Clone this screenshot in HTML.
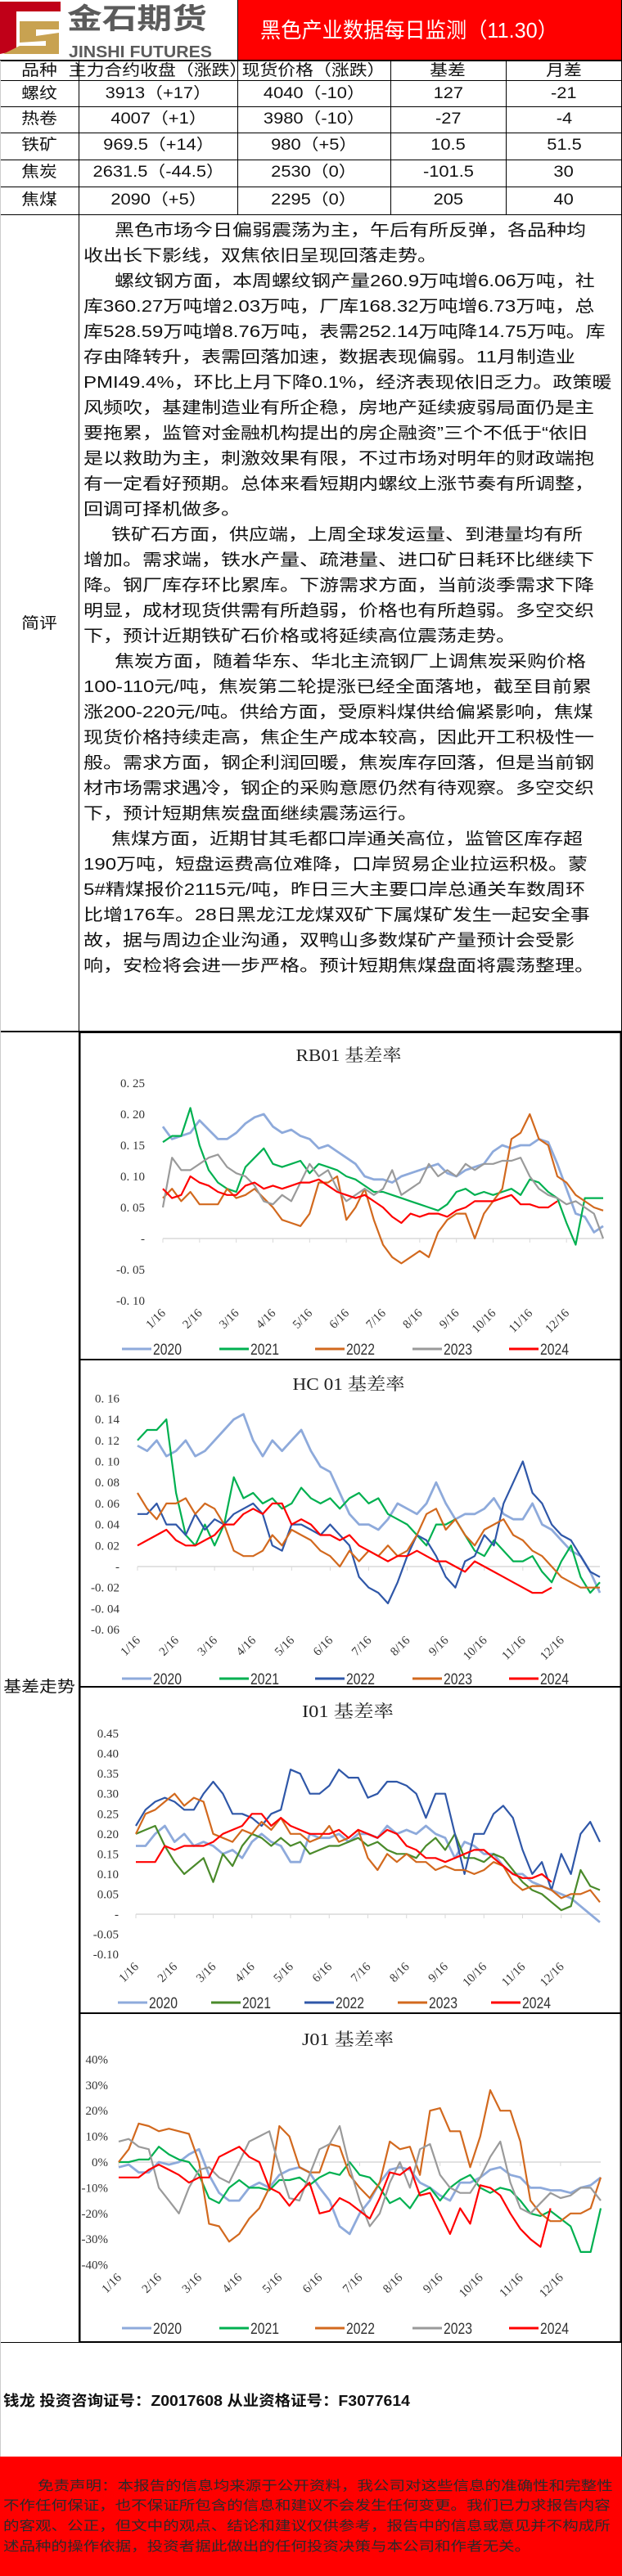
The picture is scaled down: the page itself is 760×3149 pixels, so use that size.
<!DOCTYPE html>
<html><head><meta charset="utf-8">
<style>
*{margin:0;padding:0;box-sizing:border-box}
body{width:760px;height:3149px;position:relative;background:#fff;overflow:hidden;font-family:"Liberation Sans","Noto Sans CJK SC",sans-serif;color:#111}
.a{position:absolute}
.hl{position:absolute;background:#000;height:2px}
.vl{position:absolute;background:#000;width:2px}
.cell{position:absolute;text-align:center;font-size:19px;line-height:26px;white-space:nowrap}
.cell span{display:inline-block;transform:scaleX(1.15)}
.ln{position:absolute;left:102px;font-size:20px;line-height:26px;height:26px;white-space:nowrap;transform:scaleX(1.2);transform-origin:0 50%;color:#111}
.ind{left:140px}
.disc{position:absolute;left:4px;font-size:16px;line-height:22px;white-space:nowrap;transform:scaleX(1.22);transform-origin:0 50%;color:#2a2a2a}
svg text{font-family:"Liberation Serif","Noto Serif CJK SC",serif}
</style></head>
<body>

<!-- Header -->
<div class="a" style="left:0;top:0;width:290px;height:74px;overflow:hidden">
<svg width="290" height="74">
<polygon points="0,2 74,2 74,14 20,14 20,62 0,66" fill="#c00018"/>
<polygon points="24,26 72,26 72,36 44,36 44,44 72,40 72,66 4,66 24,56 56,56 56,50 24,52" fill="#c8a251"/>
<text x="84" y="70" font-size="20" font-weight="bold" fill="#5b5b5b" textLength="175" lengthAdjust="spacingAndGlyphs" style="font-family:'Liberation Sans Narrow','Liberation Sans',sans-serif">JINSHI FUTURES</text>
</svg>
<div class="a" style="left:82px;top:4px;font-size:35px;font-weight:bold;color:#5b5b5b;line-height:40px;white-space:nowrap;transform:scaleX(1.22);transform-origin:0 0">金石期货</div>
</div>
<div class="a" style="left:290px;top:0;width:470px;height:74px;background:#ff0000"></div>
<div class="a" style="left:318px;top:20px;font-size:26px;line-height:34px;color:#fff;white-space:nowrap;transform:scaleX(0.97);transform-origin:0 0">黑色产业数据每日监测（11.30）</div>

<!-- Table grid -->
<div class="hl" style="left:0;top:73px;width:760px"></div>
<div class="hl" style="left:0;top:98px;width:760px;height:1px"></div>
<div class="hl" style="left:0;top:130px;width:760px;height:1px"></div>
<div class="hl" style="left:0;top:162px;width:760px;height:1px"></div>
<div class="hl" style="left:0;top:195px;width:760px;height:1px"></div>
<div class="hl" style="left:0;top:228px;width:760px;height:1px"></div>
<div class="hl" style="left:0;top:262px;width:760px;height:1px"></div>
<div class="hl" style="left:0;top:1260px;width:760px"></div>
<div class="hl" style="left:0;top:2863px;width:760px;height:1px"></div>
<div class="vl" style="left:96px;top:74px;height:2790px;width:1px"></div>
<div class="vl" style="left:290px;top:0;height:263px;width:1px"></div>
<div class="vl" style="left:477px;top:74px;height:189px;width:1px"></div>
<div class="vl" style="left:618px;top:74px;height:189px;width:1px"></div>
<div class="vl" style="left:759px;top:0;height:3003px;width:1px"></div>
<div class="vl" style="left:0;top:74px;height:2930px;width:1px;background:#ccc"></div>

<div class="cell" style="left:0;top:74px;width:97px"><span>品种</span></div>
<div class="cell" style="left:97px;top:74px;width:193px"><span>主力合约收盘（涨跌）</span></div>
<div class="cell" style="left:290px;top:74px;width:187px"><span>现货价格（涨跌）</span></div>
<div class="cell" style="left:477px;top:74px;width:141px"><span>基差</span></div>
<div class="cell" style="left:618px;top:74px;width:142px"><span>月差</span></div>

<div class="cell" style="left:0;top:102px;width:97px"><span>螺纹</span></div>
<div class="cell" style="left:97px;top:102px;width:193px"><span>3913（+17）</span></div>
<div class="cell" style="left:290px;top:102px;width:187px"><span>4040（-10）</span></div>
<div class="cell" style="left:477px;top:102px;width:141px"><span>127</span></div>
<div class="cell" style="left:618px;top:102px;width:142px"><span>-21</span></div>

<div class="cell" style="left:0;top:133px;width:97px"><span>热卷</span></div>
<div class="cell" style="left:97px;top:133px;width:193px"><span>4007（+1）</span></div>
<div class="cell" style="left:290px;top:133px;width:187px"><span>3980（-10）</span></div>
<div class="cell" style="left:477px;top:133px;width:141px"><span>-27</span></div>
<div class="cell" style="left:618px;top:133px;width:142px"><span>-4</span></div>

<div class="cell" style="left:0;top:165px;width:97px"><span>铁矿</span></div>
<div class="cell" style="left:97px;top:165px;width:193px"><span>969.5（+14）</span></div>
<div class="cell" style="left:290px;top:165px;width:187px"><span>980（+5）</span></div>
<div class="cell" style="left:477px;top:165px;width:141px"><span>10.5</span></div>
<div class="cell" style="left:618px;top:165px;width:142px"><span>51.5</span></div>

<div class="cell" style="left:0;top:198px;width:97px"><span>焦炭</span></div>
<div class="cell" style="left:97px;top:198px;width:193px"><span>2631.5（-44.5）</span></div>
<div class="cell" style="left:290px;top:198px;width:187px"><span>2530（0）</span></div>
<div class="cell" style="left:477px;top:198px;width:141px"><span>-101.5</span></div>
<div class="cell" style="left:618px;top:198px;width:142px"><span>30</span></div>

<div class="cell" style="left:0;top:232px;width:97px"><span>焦煤</span></div>
<div class="cell" style="left:97px;top:232px;width:193px"><span>2090（+5）</span></div>
<div class="cell" style="left:290px;top:232px;width:187px"><span>2295（0）</span></div>
<div class="cell" style="left:477px;top:232px;width:141px"><span>205</span></div>
<div class="cell" style="left:618px;top:232px;width:142px"><span>40</span></div>

<!-- Commentary -->
<div class="cell" style="left:0;top:750px;width:97px"><span>简评</span></div>
<div>
<div class="ln ind" style="top:269px">黑色市场今日偏弱震荡为主，午后有所反弹，各品种均</div>
<div class="ln" style="top:300px">收出长下影线，双焦依旧呈现回落走势。</div>
<div class="ln ind" style="top:331px">螺纹钢方面，本周螺纹钢产量260.9万吨增6.06万吨，社</div>
<div class="ln" style="top:362px">库360.27万吨增2.03万吨，厂库168.32万吨增6.73万吨，总</div>
<div class="ln" style="top:393px">库528.59万吨增8.76万吨，表需252.14万吨降14.75万吨。库</div>
<div class="ln" style="top:424px">存由降转升，表需回落加速，数据表现偏弱。11月制造业</div>
<div class="ln" style="top:455px">PMI49.4%，环比上月下降0.1%，经济表现依旧乏力。政策暖</div>
<div class="ln" style="top:486px">风频吹，基建制造业有所企稳，房地产延续疲弱局面仍是主</div>
<div class="ln" style="top:517px">要拖累，监管对金融机构提出的房企融资”三个不低于“依旧</div>
<div class="ln" style="top:548px">是以救助为主，刺激效果有限，不过市场对明年的财政端抱</div>
<div class="ln" style="top:579px">有一定看好预期。总体来看短期内螺纹上涨节奏有所调整，</div>
<div class="ln" style="top:610px">回调可择机做多。</div>
<div class="ln ind" style="top:641px;left:136px">铁矿石方面，供应端，上周全球发运量、到港量均有所</div>
<div class="ln" style="top:672px">增加。需求端，铁水产量、疏港量、进口矿日耗环比继续下</div>
<div class="ln" style="top:703px">降。钢厂库存环比累库。下游需求方面，当前淡季需求下降</div>
<div class="ln" style="top:734px">明显，成材现货供需有所趋弱，价格也有所趋弱。多空交织</div>
<div class="ln" style="top:765px">下，预计近期铁矿石价格或将延续高位震荡走势。</div>
<div class="ln ind" style="top:796px">焦炭方面，随着华东、华北主流钢厂上调焦炭采购价格</div>
<div class="ln" style="top:827px">100-110元/吨，焦炭第二轮提涨已经全面落地，截至目前累</div>
<div class="ln" style="top:858px">涨200-220元/吨。供给方面，受原料煤供给偏紧影响，焦煤</div>
<div class="ln" style="top:889px">现货价格持续走高，焦企生产成本较高，因此开工积极性一</div>
<div class="ln" style="top:920px">般。需求方面，钢企利润回暖，焦炭库存回落，但是当前钢</div>
<div class="ln" style="top:951px">材市场需求遇冷，钢企的采购意愿仍然有待观察。多空交织</div>
<div class="ln" style="top:982px">下，预计短期焦炭盘面继续震荡运行。</div>
<div class="ln ind" style="top:1013px;left:136px">焦煤方面，近期甘其毛都口岸通关高位，监管区库存超</div>
<div class="ln" style="top:1044px">190万吨，短盘运费高位难降，口岸贸易企业拉运积极。蒙</div>
<div class="ln" style="top:1075px">5#精煤报价2115元/吨，昨日三大主要口岸总通关车数周环</div>
<div class="ln" style="top:1106px">比增176车。28日黑龙江龙煤双矿下属煤矿发生一起安全事</div>
<div class="ln" style="top:1137px">故，据与周边企业沟通，双鸭山多数煤矿产量预计会受影</div>
<div class="ln" style="top:1168px">响，安检将会进一步严格。预计短期焦煤盘面将震荡整理。</div>
</div>

<!-- Chart area -->
<div class="cell" style="left:0;top:2050px;width:97px"><span>基差走势</span></div>
<svg id="charts" class="a" style="left:0;top:0" width="760" height="3149"></svg>

<!-- Footer -->
<div class="a" style="left:4px;top:2922px;font-size:18px;font-weight:bold;white-space:nowrap;line-height:26px;transform:scaleX(1.08);transform-origin:0 0">钱龙 投资咨询证号：Z0017608 从业资格证号：F3077614</div>
<div class="a" style="left:0;top:3003px;width:760px;height:146px;background:#ff0000">
<div class="disc" style="top:26px;left:46px">免责声明：本报告的信息均来源于公开资料，我公司对这些信息的准确性和完整性</div>
<div class="disc" style="top:50px">不作任何保证，也不保证所包含的信息和建议不会发生任何变更。我们已力求报告内容</div>
<div class="disc" style="top:75px">的客观、公正，但文中的观点、结论和建议仅供参考，报告中的信息或意见并不构成所</div>
<div class="disc" style="top:100px">述品种的操作依据，投资者据此做出的任何投资决策与本公司和作者无关。</div>
</div>

<script>
// ---------- Data ----------
const months = ['1/16','2/16','3/16','4/16','5/16','6/16','7/16','8/16','9/16','10/16','11/16','12/16'];
const years = ['2020','2021','2022','2023','2024'];

// RB01 basis rate
const rbTicks = ['0. 25','0. 20','0. 15','0. 10','0. 05','-','-0. 05','-0. 10'];
const rbTickValues = [0.25,0.20,0.15,0.10,0.05,0,-0.05,-0.10];
const rb2020 = [.18,.16,.165,.17, .19,.175,.16,.16, .17,.185,.195,.2, .18,.17,.175,.165, .16,.145,.15,.14, .13,.12,.1,.095, .095,.09,.1,.105, .11,.115,.12,.105, .1,.11,.115,.12, .14,.15,.145,.15, .15,.16,.155,.12, .08,.04,.035,.01,.02];
const rb2021 = [.155,.165,.165,.21, .15,.11,.09,.08, .075,.115,.13,.145, .12,.115,.12,.125, .105,.12,.115,.11, .1,.095,.085,.075, .075,.07,.065,.06, .055,.05,.045,.055, .075,.08,.07,.075, .07,.075,.08,.07, .095,.09,.075,.065, .025,-.01,.065,.065,.065];
const rb2022 = [.065,.08,.06,.075, .055,.055,.055,.08, .065,.07,.08,.065, .05,.03,.025,.02, .04,.09,.09,.1, .03,.05,.08,.03, -.01,-.03,-.04,-.03, -.02,-.03,.01,.03, .04,.04,0,.04, .06,.08,.16,.17, .2,.16,.15,.1, .09,.07,.06,.05,.045];
const rb2023 = [.05,.13,.11,.11, .12,.13,.135,.115, .105,.1,.085,.06, .055,.07,.06,.09, .12,.1,.11,.08, .06,.07,.08,.07, .08,.11,.07,.08, .09,.12,.1,.11, .1,.12,.11,.12, .12,.125,.125,.13, .1,.08,.07,.065, .055,.06,.05,.04,0];
const rb2024 = [.08,.065,.07,.1, .09,.085,.075,.07, .07,.085,.09,.08, .085,.08,.085,.09, .09,.095,.085,.075, .07,.065,.07,.06, .05,.035,.025,.04, .035,.04,.04,.035, .045,.05,.06,.06, .06,.065,.07,.055, .055,.05,.05,.06];

// HC01 basis rate
const hcTicks = ['0. 16','0. 14','0. 12','0. 10','0. 08','0. 06','0. 04','0. 02','-','-0. 02','-0. 04','-0. 06'];
const hcTickValues = [0.16,0.14,0.12,0.10,0.08,0.06,0.04,0.02,0,-0.02,-0.04,-0.06];
const hc2020 = [.115,.11,.12,.105, .11,.12,.105,.11, .12,.13,.14,.145, .12,.105,.12,.11, .12,.13,.11,.095, .09,.07,.05,.04, .04,.035,.045,.06, .055,.05,.06,.08, .06,.045,.05,.05, .055,.065,.05,.045, .045,.06,.04,.035, .025,.015,.01,-.005,-.025];
const hc2021 = [.12,.13,.13,.14, .07,.03,.02,.04, .02,.04,.085,.065, .07,.06,.065,.055, .06,.075,.065,.06, .065,.055,.065,.07, .06,.065,.05,.045, .04,.03,.02,.04, .04,.045,.03,.015, .01,.025,.015,.005, .005,.01,-.005,-.015, .005,.02,-.01,-.025,-.015];
const hc2022 = [.05,.05,.06,.04, .04,.03,.05,.035, .045,.04,.05,.055, .06,.05,.02,.015, .04,.04,.035,.03, .04,.03,.02,-.01, -.02,-.025,-.035,-.015, .01,.03,.025,.01, -.01,-.02,.005,.01, .03,.02,.06,.08, .1,.07,.06,.04, .03,.025,.01,-.005,-.01];
const hc2023 = [.07,.055,.045,.06, .06,.065,.05,.06, .055,.04,.015,.01, .01,.015,.03,.02, .035,.03,.025,.015, .01,0,.015,.005, .015,.01,.02,.01, .015,.03,.05,.055, .035,.045,.03,.02, .035,.04,.045,.03, .025,.015,.01,0, -.01,-.015,-.02,-.02,-.02];
const hc2024 = [.02,.025,.03,.035, .025,.02,.02,.025, .03,.04,.04,.05, .055,.05,.06,.06, .04,.045,.04,.03, .03,.025,.03,.02, .015,.01,.005,.01, .01,.015,.01,.005, .005,0,-.005,.005, 0,-.005,-.01,-.015, -.02,-.025,-.025,-.02];

// I01 basis rate
const ioTicks = ['0.45','0.40','0.35','0.30','0.25','0.20','0.15','0.10','0.05','-','-0.05','-0.10'];
const ioTickValues = [0.45,0.40,0.35,0.30,0.25,0.20,0.15,0.10,0.05,0,-0.05,-0.10];
const io2020 = [.17,.17,.2,.22, .18,.2,.17,.18, .17,.15,.16,.14, .18,.2,.18,.17, .13,.13,.2,.19, .19,.2,.18,.2, .2,.19,.22,.2, .21,.2,.22,.2, .19,.14,.18,.17, .15,.15,.12,.1, .1,.08,.07,.06, .05,.04,.02,0,-.02];
const io2021 = [.2,.21,.22,.17, .13,.1,.12,.14, .08,.15,.12,.17, .2,.19,.17,.19, .17,.18,.15,.16, .17,.17,.18,.19, .17,.18,.16,.15, .15,.14,.17,.19, .16,.2,.14,.14, .13,.15,.14,.11, .08,.06,.05,.03, .01,.02,.11,.07,.06];
const io2022 = [.22,.26,.28,.29, .28,.26,.26,.3, .33,.3,.25,.25, .24,.22,.25,.26, .36,.35,.3,.3, .32,.36,.34,.34, .29,.3,.33,.33, .32,.3,.24,.3, .3,.2,.1,.2, .2,.25,.27,.24, .16,.1,.13,.06, .15,.1,.2,.23,.18];
const io2023 = [.2,.25,.26,.28, .3,.27,.29,.28, .2,.19,.18,.21, .2,.23,.21,.24, .2,.2,.18,.19, .22,.18,.19,.21, .14,.11,.15,.13, .15,.13,.13,.11, .12,.11,.11,.1, .11,.13,.12,.08, .06,.07,.07,.06, .04,.05,.05,.06,.03];
const io2024 = [.13,.13,.13,.17, .16,.17,.17,.17, .18,.2,.21,.22, .25,.25,.22,.24, .22,.21,.2,.2, .2,.21,.19,.21, .2,.19,.21,.2, .17,.16,.14,.14, .13,.14,.15,.16, .16,.14,.12,.1, .09,.09,.1,.08];

// J01 basis rate (percent)
const jTicks = ['40%','30%','20%','10%','0%','-10%','-20%','-30%','-40%'];
const jTickValues = [40,30,20,10,0,-10,-20,-30,-40];
const j2020 = [-2,-1,-4,-4, 0,-1,0,3, 5,-5,-12,-15, -15,-10,-8,-10, -5,-3,-2,-4, -10,-15,-25,-28, -20,-15,-8,-3, -2,-3,-8,-10, -13,-15,-8,-8, -6,-3,-2,-5, -6,-10,-10,-11, -11,-12,-10,-9,-6];
const j2021 = [0,0,1,1, 6,3,1,0, -5,-14,-16,-10, -7,-10,-10,-11, -7,-7,-6,-9, -6,-4,-5,0, -5,-6,-10,-16, -14,-18,-12,-10, -15,-10,-7,-5, -10,-12,-10,-11, -15,-20,-21,-19, -22,-25,-35,-35,-18];
const j2022 = [0,5,15,14, 12,13,12,11, 0,-24,-25,-31, -28,-22,-18,-10, 14,10,-2,-4, -4,7,6,-5, -10,-14,-8,8, 5,6,-5,20, 21,12,12,-2, 10,28,20,20, 8,-15,-20,-23, -23,-20,-20,-18,-6];
const j2023 = [8,9,6,5, -10,-15,-20,-10, -3,-2,-6,-8, 0,8,10,12, -2,-14,-15,-5, 5,7,14,-2, -15,-25,-20,-8, 0,-10,5,7, -5,-10,-12,-12, -6,2,8,-8, -18,-20,-16,-12, -14,-13,-10,-10,-15];
const j2024 = [-6,-6,-6,-3, -1,-3,-5,-8, -6,-6,2,4, 6,2,0,-10, -12,-17,-12,-8, -20,-19,-14,-16, -19,-22,-14,-4, -5,-2,-13,-12, -20,-28,-18,-24, -9,-10,-13,-20, -26,-30,-33,-18];

// ---------- Drawing ----------
const NS = 'http://www.w3.org/2000/svg';
const svg = document.getElementById('charts');
function mk(tag, attrs, parent){
  const e = document.createElementNS(NS, tag);
  for (const k in attrs) e.setAttribute(k, attrs[k]);
  parent.appendChild(e);
  return e;
}
function drawChart(cfg, name, title, ticks, tickValues, seriesList, colors){
  const g = mk('g', {}, svg);
  
  
  const box = mk('rect', {x:97.5, y:cfg.top, width:661, height:cfg.bottom-cfg.top, fill:'none', stroke:'#000', 'stroke-width':2}, g);
  
  
  const t = mk('text', {x:cfg.titleX, y:cfg.titleY+7, 'text-anchor':'middle', 'font-size':21, fill:'#222', textLength:cfg.titleW, lengthAdjust:'spacingAndGlyphs'}, g);
  t.textContent = title;
  
  
  const W = cfg.x1 - cfg.x0;
  const yOf = v => cfg.zeroY - v * cfg.ppu;
  const xOf = i => cfg.x0 + i / 48 * W;
  ticks.forEach((lab, k) => {
    const tx = mk('text', {x:cfg.labelX, y:yOf(tickValues[k]) + 5, 'text-anchor':'end', 'font-size':15, fill:'#333'}, g);
    tx.textContent = lab;
    
    
  });
  const ax = mk('line', {x1:cfg.x0, x2:cfg.x1, y1:yOf(0), y2:yOf(0), stroke:'#d9d9d9', 'stroke-width':1.5}, g);
  
  
  months.forEach((m, k) => {
    const mx = cfg.x0 + k / 12 * W;
    const tk = mk('line', {x1:mx, x2:mx, y1:yOf(0), y2:yOf(0)+5, stroke:'#d9d9d9', 'stroke-width':1}, g);
    
    
    const lx = mk('text', {x:0, y:0, 'text-anchor':'end', 'font-size':15, fill:'#333', transform:'translate(' + (mx + 4) + ',' + cfg.xLabelY + ') rotate(-45)'}, g);
    lx.textContent = m;
    
    
  });
  seriesList.forEach((arr, s) => {
    let d = '';
    arr.forEach((v, i) => { d += (i ? 'L' : 'M') + xOf(i).toFixed(1) + ',' + yOf(v).toFixed(1); });
    const p = mk('path', {d:d, fill:'none', stroke:colors[s], 'stroke-width': s === 0 ? 2.8 : 2.2, 'stroke-linejoin':'round'}, g);
    
    
  });
  years.forEach((yr, s) => {
    const lxp = cfg.legendX[s];
    const ll = mk('line', {x1:lxp, x2:lxp+36, y1:cfg.legendY, y2:cfg.legendY, stroke:colors[s], 'stroke-width':3}, g);
    
    
    const lt = mk('text', {x:lxp+38, y:cfg.legendY+7, 'font-size':19, fill:'#333', textLength:35, lengthAdjust:'spacingAndGlyphs', style:'font-family:"Liberation Sans",sans-serif'}, g);
    lt.textContent = yr;
    
    
  });
}
const legA = [149, 268, 385, 504, 622];
const legB = [144, 258, 372, 486, 600];
drawChart({top:1262, bottom:1662, x0:199, x1:737, zeroY:1514, ppu:760, labelX:177, xLabelY:1606, legendY:1649, legendX:legA, titleX:426, titleY:1290, titleW:129},
  'rb01-basis-chart', 'RB01 基差率', rbTicks, rbTickValues, [rb2020, rb2021, rb2022, rb2023, rb2024],
  ['#8eaadb', '#00b050', '#d2691e', '#9a9a9a', '#ff0000']);
drawChart({top:1662, bottom:2062, x0:168, x1:733, zeroY:1915, ppu:1285, labelX:146, xLabelY:2006, legendY:2052, legendX:legA, titleX:426, titleY:1692, titleW:137},
  'hc01-basis-chart', 'HC 01 基差率', hcTicks, hcTickValues, [hc2020, hc2021, hc2022, hc2023, hc2024],
  ['#8eaadb', '#00b050', '#2f57a8', '#d2691e', '#ff0000']);
drawChart({top:2062, bottom:2461, x0:166, x1:733, zeroY:2340, ppu:491, labelX:145, xLabelY:2405, legendY:2448, legendX:legB, titleX:425, titleY:2092, titleW:112},
  'i01-basis-chart', 'I01 基差率', ioTicks, ioTickValues, [io2020, io2021, io2022, io2023, io2024],
  ['#8eaadb', '#4a8a2a', '#2f57a8', '#d2691e', '#ff0000']);
drawChart({top:2461, bottom:2863, x0:145, x1:734, zeroY:2643, ppu:3.14, labelX:132, xLabelY:2785, legendY:2846, legendX:legA, titleX:425, titleY:2493, titleW:112},
  'j01-basis-chart', 'J01 基差率', jTicks, jTickValues, [j2020, j2021, j2022, j2023, j2024],
  ['#8eaadb', '#00b050', '#d2691e', '#9a9a9a', '#ff0000']);
</script>
</body></html>
